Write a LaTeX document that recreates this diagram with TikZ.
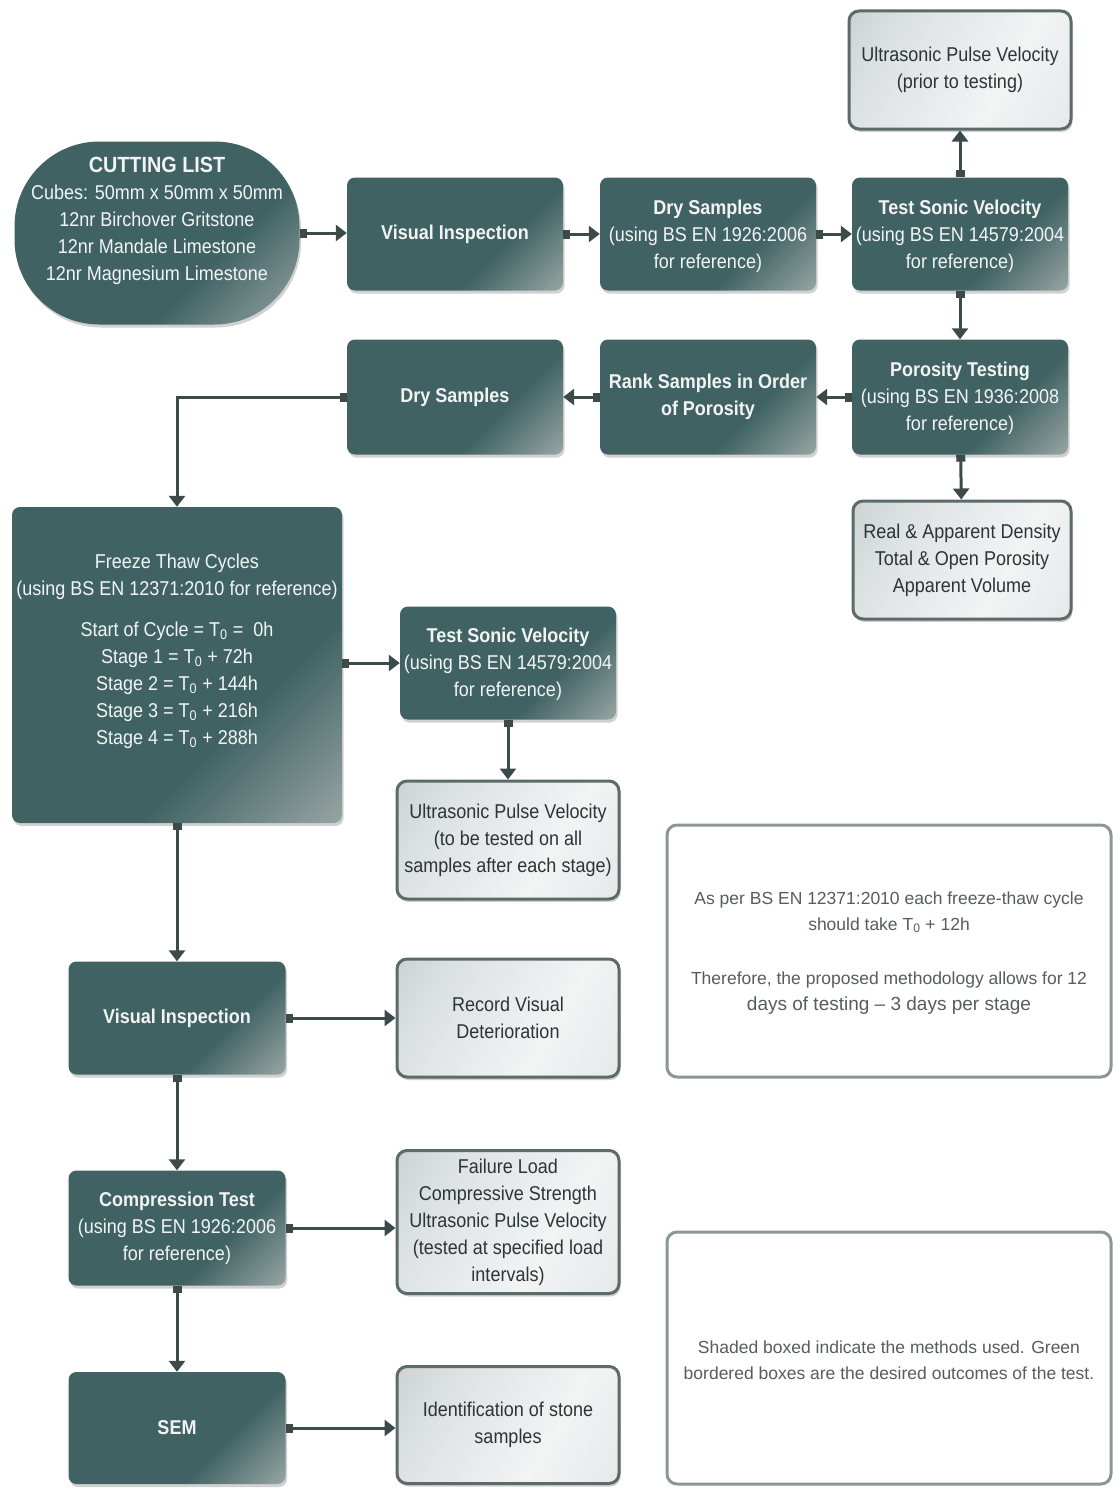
\documentclass[tikz,border=0pt]{standalone}
\usepackage{fontspec}
\setmainfont[FakeStretch=0.9]{Liberation Sans}
\newfontfamily\notefont{Liberation Sans}
\usetikzlibrary{arrows.meta,shadows}

\definecolor{tealbox}{HTML}{406263}
\definecolor{tealglow}{HTML}{A9B3B1}
\definecolor{paleA}{HTML}{BCC3C3}
\definecolor{paleB}{HTML}{DCE1E1}
\definecolor{paleC}{HTML}{F2F4F4}
\definecolor{paleborder}{HTML}{5C6A6A}
\definecolor{outtext}{HTML}{2C3434}
\definecolor{arrowc}{HTML}{3C4A4A}
\definecolor{noteborder}{HTML}{8C9696}
\definecolor{notetext}{HTML}{565D5D}
\definecolor{boxtextc}{HTML}{F2F4F4}

% dark method boxes: flat teal that brightens toward the lower right corner
\pgfdeclarehorizontalshading{tealcorner}{100bp}{color(0bp)=(tealbox); color(63bp)=(tealbox); color(90bp)=(tealglow); color(100bp)=(tealglow)}
% pale outcome boxes
\pgfdeclarehorizontalshading{palefill}{100bp}{color(0bp)=(paleA); color(30bp)=(paleB); color(62bp)=(paleC); color(100bp)=(paleB)}

\tikzset{
  method/.style={shape=rectangle, rounded corners=8pt, shade, shading=tealcorner,
    shading angle=-45, draw=none, inner sep=0pt,
    drop shadow={shadow xshift=1.5pt, shadow yshift=-3pt, opacity=0.18, fill=black}},
  outcome/.style={shape=rectangle, rounded corners=10pt, shade, shading=palefill,
    shading angle=-30, draw=paleborder, line width=3pt, inner sep=0pt,
    text=outtext, align=center, font=\fontsize{20}{27}\selectfont,
    drop shadow={shadow xshift=1.5pt, shadow yshift=-3pt, opacity=0.18, fill=black}},
  note/.style={shape=rectangle, rounded corners=10pt, fill=white, draw=noteborder,
    line width=3pt, inner sep=0pt},
  boxtext/.style={text=boxtextc, align=center, inner sep=0pt,
    font=\fontsize{20}{27}\selectfont},
  notetxt/.style={text=notetext, align=center, inner sep=0pt,
    font=\notefont\fontsize{17.5}{26}\selectfont},
  conn/.style={draw=arrowc, line width=3pt,
    {Square[length=7pt,width=9pt]}-{Triangle[length=11pt,width=16pt]}},
}

\begin{document}
\begin{tikzpicture}[x=1pt, y=-1pt]
\useasboundingbox (0,0) rectangle (1113,1488);

% ---------- method boxes ----------
\node[method, rounded corners=85pt, minimum width=285pt, minimum height=183pt] (cut) at (157,233) {};
\node[boxtext] (cuttext) at (157,221) {{\bfseries\fontsize{22}{27}\selectfont CUTTING LIST}\\
  Cubes: 50mm x 50mm x 50mm\\12nr Birchover Gritstone\\12nr Mandale Limestone\\12nr Magnesium Limestone};

\node[method, minimum width=216pt, minimum height=113pt] (vis1) at (455,234) {};
\node[boxtext] (vis1text) at (455,234) {\bfseries Visual Inspection};

\node[method, minimum width=216pt, minimum height=113pt] (dry1) at (708,234) {};
\node[boxtext] (dry1text) at (708,236) {{\bfseries Dry Samples}\\(using BS EN 1926:2006\\for reference)};

\node[method, minimum width=216pt, minimum height=113pt] (tsv1) at (960,234) {};
\node[boxtext] (tsv1text) at (960,236) {{\bfseries Test Sonic Velocity}\\(using BS EN 14579:2004\\for reference)};

\node[method, minimum width=216pt, minimum height=115pt] (por) at (960,397) {};
\node[boxtext] (portext) at (960,398) {{\bfseries Porosity Testing}\\(using BS EN 1936:2008\\for reference)};

\node[method, minimum width=216pt, minimum height=115pt] (rank) at (708,397) {};
\node[boxtext] (ranktext) at (708,397) {\bfseries Rank Samples in Order\\\bfseries of Porosity};

\node[method, minimum width=216pt, minimum height=115pt] (dry2) at (455,397) {};
\node[boxtext] (dry2text) at (455,397) {\bfseries Dry Samples};

\node[method, minimum width=330pt, minimum height=316pt] (ftc) at (177,665) {};
\node[boxtext] (ftctext) at (177,651) {Freeze Thaw Cycles\\(using BS EN 12371:2010 for reference)\\[14pt]
  Start of Cycle = T\textsubscript{0} =~ 0h\\Stage 1 = T\textsubscript{0} + 72h\\
  Stage 2 = T\textsubscript{0} + 144h\\Stage 3 = T\textsubscript{0} + 216h\\Stage 4 = T\textsubscript{0} + 288h};

\node[method, minimum width=216pt, minimum height=113pt] (tsv2) at (508,663) {};
\node[boxtext] (tsv2text) at (508,664) {{\bfseries Test Sonic Velocity}\\(using BS EN 14579:2004\\for reference)};

\node[method, minimum width=217pt, minimum height=113pt] (vis2) at (177,1018) {};
\node[boxtext] (vis2text) at (177,1018) {\bfseries Visual Inspection};

\node[method, minimum width=217pt, minimum height=115pt] (comp) at (177,1228) {};
\node[boxtext] (comptext) at (177,1228) {{\bfseries Compression Test}\\(using BS EN 1926:2006\\for reference)};

\node[method, minimum width=217pt, minimum height=112pt] (sem) at (177,1428) {};
\node[boxtext] (semtext) at (177,1428) {\bfseries SEM};

% ---------- outcome boxes ----------
\node[outcome, minimum width=222pt, minimum height=118pt] (upv1) at (960,70)
  {Ultrasonic Pulse Velocity\\(prior to testing)};
\node[outcome, minimum width=218pt, minimum height=118pt] (dens) at (962,560)
  {Real \& Apparent Density\\Total \& Open Porosity\\Apparent Volume};
\node[outcome, minimum width=222pt, minimum height=118pt] (upv2) at (508,840)
  {Ultrasonic Pulse Velocity\\(to be tested on all\\samples after each stage)};
\node[outcome, minimum width=222pt, minimum height=118pt] (rvd) at (508,1018)
  {Record Visual\\Deterioration};
\node[outcome, minimum width=222pt, minimum height=143pt] (fail) at (508,1222)
  {Failure Load\\Compressive Strength\\Ultrasonic Pulse Velocity\\(tested at specified load\\intervals)};
\node[outcome, minimum width=222pt, minimum height=117pt] (ident) at (508,1425)
  {Identification of stone\\samples};

% ---------- notes ----------
\node[note, minimum width=444pt, minimum height=252pt] (note1) at (889,951) {};
\node[notetxt] (note1text) at (889,953) {As per BS EN 12371:2010 each freeze-thaw cycle\\
  should take T\textsubscript{0} + 12h\\[28pt]
  Therefore, the proposed methodology allows for 12\\
  {\fontsize{19}{26}\selectfont days of testing \textendash{} 3 days per stage}};

\node[note, minimum width=444pt, minimum height=252pt] (note2) at (889,1358) {};
\node[notetxt] (note2text) at (889,1360) {Shaded boxed indicate the methods used. Green\\
  bordered boxes are the desired outcomes of the test.};

% ---------- connectors ----------
\draw[conn] (cut.east |- 0,233) -- (vis1.west |- 0,233);
\draw[conn] (vis1) -- (dry1);
\draw[conn] (dry1) -- (tsv1);
\draw[conn] (tsv1) -- (upv1);
\draw[conn] (tsv1) -- (por);
\draw[conn] (por) -- (dens);
\draw[conn] (por) -- (rank);
\draw[conn] (rank) -- (dry2);
\draw[conn] (dry2.west) -| (ftc.north);
\draw[conn] (ftc.east |- tsv2) -- (tsv2.west);
\draw[conn] (tsv2) -- (upv2);
\draw[conn] (ftc) -- (vis2);
\draw[conn] (vis2) -- (rvd);
\draw[conn] (vis2) -- (comp);
\draw[conn] (comp.east) -- (fail.west |- comp.east);
\draw[conn] (comp) -- (sem);
\draw[conn] (sem.east) -- (ident.west |- sem.east);
\end{tikzpicture}
\end{document}
